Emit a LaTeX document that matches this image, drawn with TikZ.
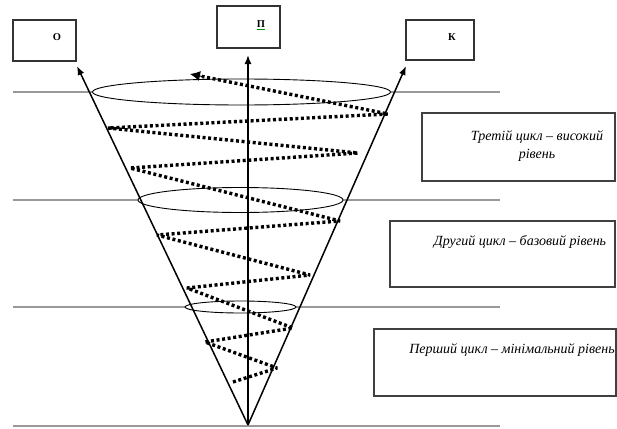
\documentclass[tikz,border=0pt]{standalone}
\usepackage{fontspec}
\setmainfont{Liberation Serif}
\usetikzlibrary{arrows.meta,shapes.geometric,calc}
\begin{document}
\begin{tikzpicture}[x=1pt,y=-1pt,
  guide/.style={draw=black!40,line width=1.3pt},
  ring/.style={draw=black,fill=white,line width=0.9pt},
  axisarrow/.style={draw=black,line width=1.5pt,-{Latex[length=9pt,width=7pt]}},
  spiral/.style={draw=black,line width=3.4pt,line join=bevel,dash pattern=on 3pt off 2.6pt},
  spiralhead/.style={draw=black,line width=1pt,-{Latex[length=10pt,width=10pt]}},
  topbox/.style={draw=black!80,line width=1.1pt,rectangle,inner sep=0pt},
  letter/.style={font=\bfseries\fontsize{10.5}{12}\selectfont,inner sep=0pt},
  levelbox/.style={draw=black!75,line width=1.2pt,rectangle,inner sep=0pt},
  leveltext/.style={font=\itshape\fontsize{14}{17.5}\selectfont,inner sep=0pt,align=center}]
\useasboundingbox (0,0) rectangle (617,428);
% horizontal level lines
\coordinate (g1a) at (13,92);  \coordinate (g1b) at (500,92);
\coordinate (g2a) at (13,200); \coordinate (g2b) at (500,200);
\coordinate (g3a) at (13,307); \coordinate (g3b) at (500,307);
\coordinate (g4a) at (13,426); \coordinate (g4b) at (500,426);
\draw[guide] (g1a) -- (g1b);
\draw[guide] (g2a) -- (g2b);
\draw[guide] (g3a) -- (g3b);
\draw[guide] (g4a) -- (g4b);
% ellipses
\node[ring,ellipse,minimum width=298pt,minimum height=26pt,inner sep=0pt] (e1) at (241.5,92) {};
\node[ring,ellipse,minimum width=205pt,minimum height=25pt,inner sep=0pt] (e2) at (240.5,200) {};
\node[ring,ellipse,minimum width=111pt,minimum height=12pt,inner sep=0pt] (e3) at (240.5,307) {};
% top boxes
\node[topbox,minimum width=63pt,minimum height=41pt] (O) at (44.5,40.5) {};
\node[topbox,minimum width=63pt,minimum height=42pt] (P) at (248.5,27) {};
\node[topbox,minimum width=68pt,minimum height=40pt] (K) at (440,40) {};
\node[letter] (Ot) at (57,37) {О};
\node[letter] (Pt) at (261,24) {П};
\node[letter] (Kt) at (452,37) {К};
\draw[draw=green!55!black,line width=0.6pt] ([yshift=-2pt]Pt.south west) -- ([yshift=-2pt]Pt.south east);
% cone arrows
\coordinate (apex) at (248,425);
\coordinate (tipO) at (77,66);
\coordinate (tipP) at (248,55);
\coordinate (tipK) at (406,66);
\draw[axisarrow] (apex) -- (tipO);
\draw[axisarrow] (apex) -- (tipP);
\draw[axisarrow] (apex) -- (tipK);
% spiral
\coordinate (z1) at (233,382);
\coordinate (z2) at (277,368);
\coordinate (z3) at (205,342);
\coordinate (z4) at (293,328);
\coordinate (z5) at (187,288);
\coordinate (z6) at (310,275);
\coordinate (z7) at (157,235);
\coordinate (z8) at (340,221);
\coordinate (z9) at (130,168);
\coordinate (z10) at (358,153);
\coordinate (z11) at (108,128);
\coordinate (z12) at (388,114);
\coordinate (z13) at (190,74);
\draw[spiral] (z1) -- (z2) -- (z3) -- (z4) -- (z5) -- (z6) -- (z7) -- (z8) -- (z9) -- (z10) -- (z11) -- (z12) -- ($(z12)!0.94!(z13)$);
\draw[spiralhead] ($(z12)!0.93!(z13)$) -- (z13);
% level boxes
\node[levelbox,minimum width=193pt,minimum height=68pt] (L3) at (518.5,147) {};
\node[levelbox,minimum width=225pt,minimum height=66pt] (L2) at (502.5,254) {};
\node[levelbox,minimum width=242pt,minimum height=67pt] (L1) at (495,362.5) {};
\node[leveltext] (L3t) at (537,146) {Третій цикл – високий\\рівень};
\node[leveltext] (L2t) at (520,242) {Другий цикл – базовий рівень};
\node[leveltext] (L1t) at (512,350) {Перший цикл – мінімальний рівень};
\end{tikzpicture}
\end{document}
